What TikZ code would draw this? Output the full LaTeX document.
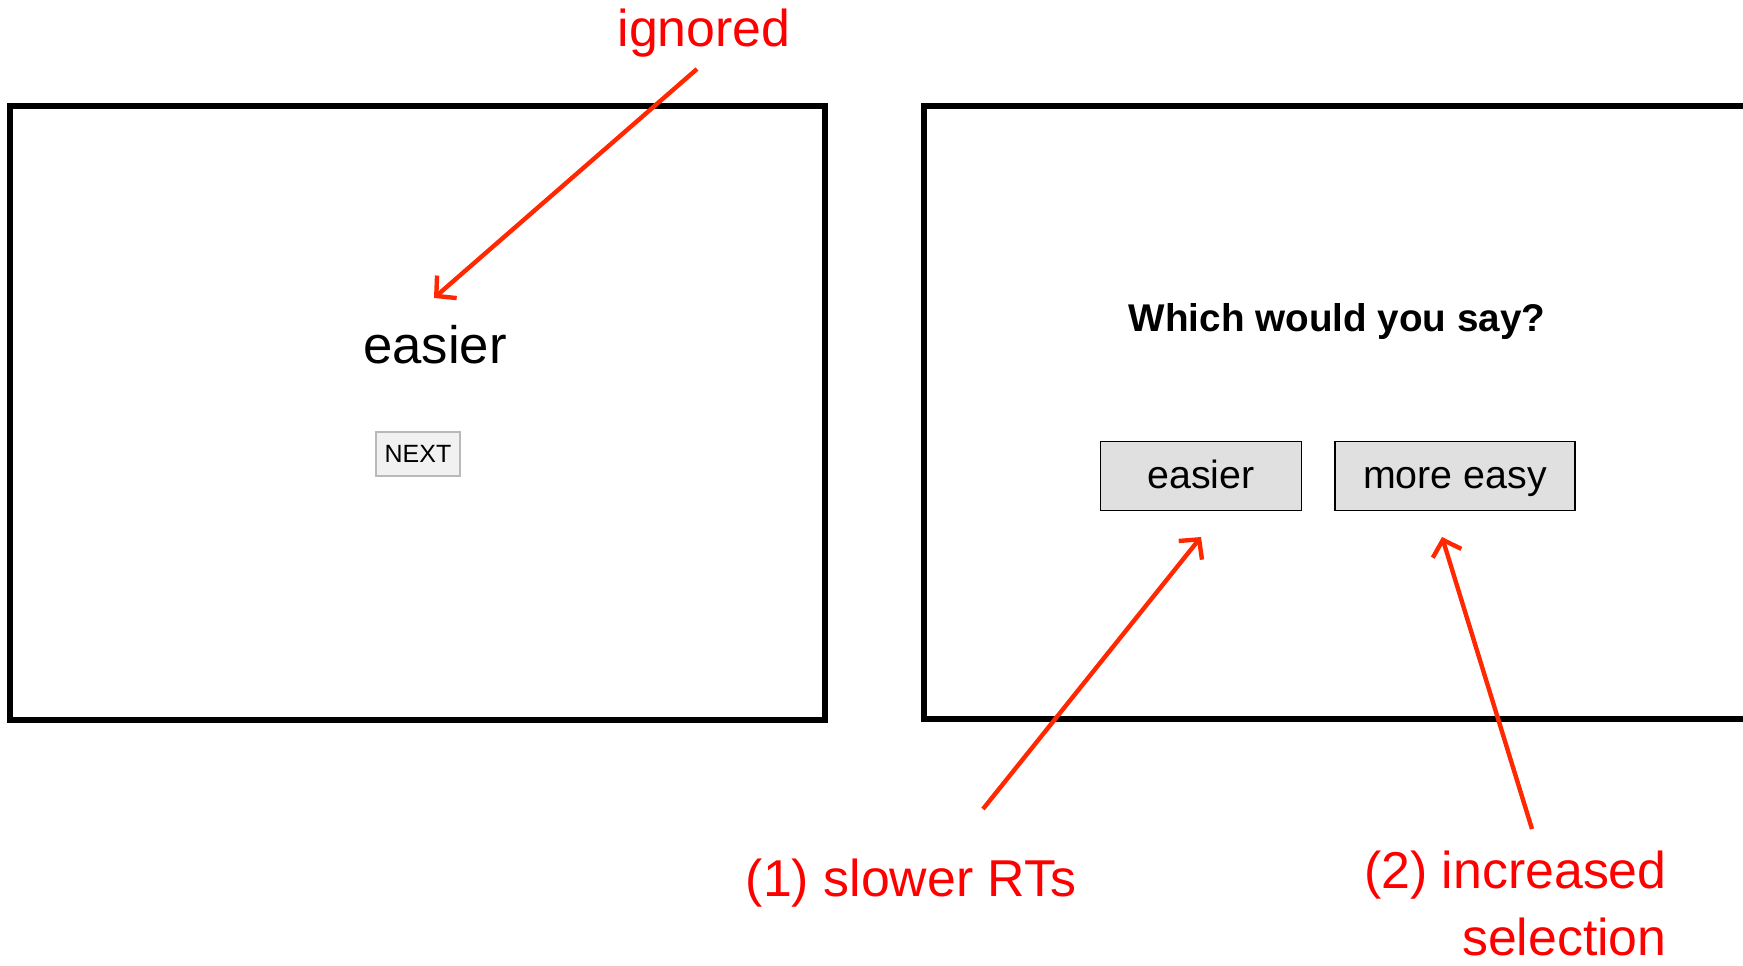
\documentclass[tikz,border=0pt]{standalone}
\usepackage{fontspec}
\setmainfont{Liberation Sans}
\usetikzlibrary{arrows.meta}

\definecolor{notered}{RGB}{255,0,0}
\definecolor{arrowred}{RGB}{255,40,0}
\definecolor{btngray}{RGB}{224,224,224}
\definecolor{nextgray}{RGB}{241,241,241}
\definecolor{nextline}{RGB}{185,185,185}

\begin{document}
\begin{tikzpicture}
  [x=0.02cm,y=-0.02cm,
   screen/.style={draw,line width=3.3pt},
   note/.style={text=notered,inner sep=0,font=\fontsize{29.5}{38}\selectfont},
   choice/.style={draw,fill=btngray,line width=0.8pt,minimum height=39pt,
     inner sep=0,text height=16pt,text depth=1.5pt,font=\fontsize{22.4}{26}\selectfont},
   pointer/.style={draw=arrowred,line width=2.5pt,-{Straight Barb[length=8pt,width=17pt]}}]
  \useasboundingbox (0,0) rectangle (1743,966);

  % the two screens
  \draw[screen] (10,106) rectangle (825,720);
  \draw[screen] (1743,106) -- (924,106) -- (924,719) -- (1743,719);

  % first screen
  \node[inner sep=0,anchor=base,font=\fontsize{30}{36}\selectfont] (word) at (435,363) {easier};
  \node[draw=nextline,fill=nextgray,line width=0.8pt,minimum width=48pt,minimum height=25pt,
        inner sep=0,font=\fontsize{14.2}{17}\selectfont] (next) at (418,454) {NEXT};

  % second screen
  \node[inner sep=0,anchor=base,font=\bfseries\fontsize{22}{26}\selectfont] (ask) at (1337,331) {Which would you say?};
  \node[choice,minimum width=114.5pt] (optA) at (1201,476) {easier};
  \node[choice,minimum width=136.7pt] (optB) at (1455,476) {more easy};

  % notes
  \node[note,anchor=base] (ign) at (704,47) {ignored};
  \node[note,anchor=base] (slow) at (911,896) {(1) slower RTs};
  \node[note,align=right,anchor=north east] (sel) at (1667,851) {(2) increased\\selection};

  \coordinate (ignTail) at (697,69);
  \coordinate (ignTip) at (434,298);
  \coordinate (slowTail) at (983,809);
  \coordinate (slowTip) at (1201,537);
  \coordinate (selTail) at (1532,829);
  \coordinate (selTip) at (1442,537);

 \path[every edge/.style=pointer]
        (ignTail) edge (ignTip)
        (slowTail) edge (slowTip)
        (selTail) edge (selTip);

\end{tikzpicture}
\end{document}
